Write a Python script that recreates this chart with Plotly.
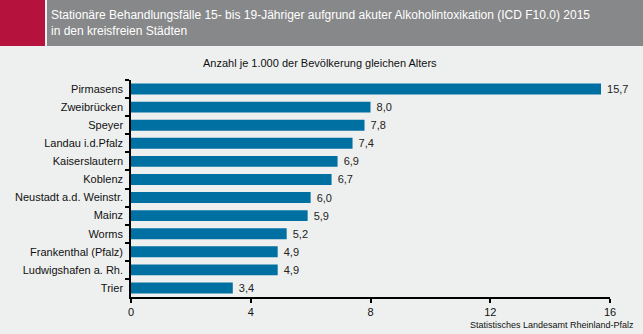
import plotly.graph_objects as go

cities = ["Pirmasens", "Zweibrücken", "Speyer", "Landau i.d.Pfalz", "Kaiserslautern",
          "Koblenz", "Neustadt a.d. Weinstr.", "Mainz", "Worms", "Frankenthal (Pfalz)",
          "Ludwigshafen a. Rh.", "Trier"]
values = [15.7, 8.0, 7.8, 7.4, 6.9, 6.7, 6.0, 5.9, 5.2, 4.9, 4.9, 3.4]
x_ticks = [0, 4, 8, 12, 16]

title_text = ("Stationäre Behandlungsfälle 15- bis 19-Jähriger aufgrund akuter Alkoholintoxikation (ICD F10.0) 2015"
              "<br>in den kreisfreien Städten")
subtitle = "Anzahl je 1.000 der Bevölkerung gleichen Alters"
source = "Statistisches Landesamt Rheinland-Pfalz"

labels = [" " + f"{v:.1f}".replace(".", ",") for v in values]
font = "Liberation Sans, Arial, sans-serif"

fig = go.Figure(go.Bar(
    y=cities, x=values, orientation="h",
    marker=dict(color="#0070a3", line=dict(width=0)),
    text=labels, textposition="outside", cliponaxis=False, constraintext="none",
    textfont=dict(family=font, size=11, color="#222222"),
    width=0.6,
))

fig.update_layout(
    width=643, height=334,
    margin=dict(l=131, r=33, t=80, b=37),
    paper_bgcolor="#eef0ef", plot_bgcolor="#eef0ef",
    showlegend=False,
    font=dict(family=font, size=11, color="#111111"),
    xaxis=dict(range=[0, 16], tickvals=x_ticks, ticktext=[str(t) for t in x_ticks],
               showgrid=False, zeroline=False, showline=True, linecolor="#000000", linewidth=1.5,
               ticks="outside", ticklen=4, tickcolor="#000000", tickwidth=1.5,
               tickfont=dict(size=11)),
    yaxis=dict(autorange="reversed", showgrid=False, zeroline=False,
               showline=True, linecolor="#000000", linewidth=1.5,
               ticks="outside", ticklen=4, tickcolor="#000000", tickwidth=1.5,
               tickson="boundaries", tickfont=dict(size=11), ticklabelstandoff=4),
    shapes=[
        dict(type="rect", xref="paper", yref="paper", x0=-131/479, x1=(45-131)/479,
             y0=1+(80-46)/217, y1=1+80/217, fillcolor="#b5123e", line=dict(width=0), layer="below"),
        dict(type="rect", xref="paper", yref="paper", x0=(47-131)/479, x1=(643-131)/479,
             y0=1+(80-46)/217, y1=1+80/217, fillcolor="#878889", line=dict(width=0), layer="below"),
    ],
    annotations=[
        dict(text=title_text, xref="paper", yref="paper", x=(49-131)/479, y=1+(80-6)/217,
             xanchor="left", yanchor="top", align="left", showarrow=False,
             font=dict(family=font, size=12, color="#ffffff")),
        dict(text=subtitle, xref="paper", yref="paper", x=(320-131)/479, y=1+(80-63)/217,
             xanchor="center", yanchor="middle", showarrow=False,
             font=dict(family=font, size=11, color="#111111")),
        dict(text=source, xref="paper", yref="paper", x=(636-131)/479, y=-(325-297)/217,
             xanchor="right", yanchor="middle", showarrow=False,
             font=dict(family=font, size=9, color="#111111")),
    ],
)

fig.write_html("out.html")
